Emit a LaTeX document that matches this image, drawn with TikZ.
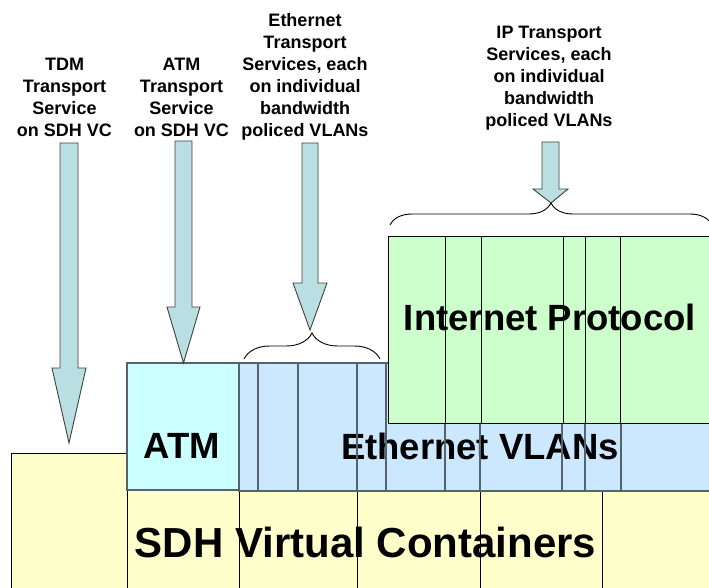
\documentclass[tikz,border=0pt]{standalone}
\usepackage{fontspec}
\setmainfont{Liberation Sans}
\usetikzlibrary{decorations.pathreplacing}
\definecolor{arrowfill}{HTML}{B9DFE3}
\definecolor{sdhyellow}{HTML}{FFFFCC}
\definecolor{atmcyan}{HTML}{CCFFFF}
\definecolor{vlanblue}{HTML}{CCE8FF}
\definecolor{ipgreen}{HTML}{CCFFCC}
\definecolor{vlanline}{HTML}{56636B}

\begin{document}
\begin{tikzpicture}[x=1pt,y=-1pt,
  svclabel/.style={font=\bfseries\fontsize{18}{22}\selectfont,align=center,anchor=base},
  layertext/.style={font=\bfseries\fontsize{36.5}{40}\selectfont,anchor=base},
  fatarrow/.style={draw=black!75,fill=arrowfill,line width=0.9pt,line join=miter},
  curly/.style={decorate,decoration={brace,amplitude=#1},line width=0.9pt}]
  \useasboundingbox (0,0) rectangle (709,588) ;
  \clip (0,0) rectangle (709,588) ;
  % SDH layer
  \filldraw[fill=sdhyellow,line width=1pt] (11,600) -- (11,453) -- (127,453) -- (127,490) -- (720,490) -- (720,600) -- cycle ;
  \node[layertext,font=\bfseries\fontsize{42}{46}\selectfont] (sdh) at (365.5,557) {SDH Virtual Containers} ;
  \draw[line width=1pt] (127,453) -- (127,600) ;
  \draw[line width=1pt] (239,490) -- (239,600) ;
  \draw[line width=1pt] (357,490) -- (357,600) ;
  \draw[line width=1pt] (480,490) -- (480,600) ;
  \draw[line width=1pt] (602,489) -- (602,600) ;
  % ATM and Ethernet layer
  \filldraw[fill=atmcyan,draw=vlanline,line width=1.2pt] (127,363) rectangle (239,490) ;
  \node[layertext] (atm) at (182,458) {ATM} ;
  \filldraw[fill=vlanblue,draw=vlanline,line width=1.2pt] (239,363) rectangle (720,491) ;
  \node[layertext] (vlan) at (480,459) {Ethernet VLANs} ;
  \draw[vlanline,line width=1.3pt] (258,363) -- (258,491) ;
  \draw[vlanline,line width=1.3pt] (298,363) -- (298,491) ;
  \draw[vlanline,line width=1.3pt] (357,363) -- (357,491) ;
  \draw[vlanline,line width=1.3pt] (386,363) -- (386,491) ;
  \draw[vlanline,line width=1.3pt] (445,423) -- (445,491) ;
  \draw[vlanline,line width=1.3pt] (480,423) -- (480,491) ;
  \draw[vlanline,line width=1.3pt] (562,423) -- (562,491) ;
  \draw[vlanline,line width=1.3pt] (585,423) -- (585,491) ;
  \draw[vlanline,line width=1.3pt] (621,423) -- (621,491) ;
  % IP layer
  \filldraw[fill=ipgreen,line width=1pt] (388,236) rectangle (720,423) ;
  \node[layertext] (ip) at (550,330) {Internet Protocol} ;
  \draw[line width=1pt] (445,236) -- (445,423) ;
  \draw[line width=1pt] (481,236) -- (481,423) ;
  \draw[line width=1pt] (563,236) -- (563,423) ;
  \draw[line width=1pt] (585,236) -- (585,423) ;
  \draw[line width=1pt] (620,236) -- (620,423) ;
  % service labels (base = last line)
  \node[svclabel] (tdmsvc) at (64.5,137) {TDM\\Transport\\Service\\on SDH VC} ;
  \node[svclabel] (atmsvc) at (181.5,137) {ATM\\Transport\\Service\\on SDH VC} ;
  \node[svclabel] (ethsvc) at (305,137) {Ethernet\\Transport\\Services, each\\on individual\\bandwidth\\policed VLANs} ;
  \node[svclabel] (ipsvc) at (549,127) {IP Transport\\Services, each\\on individual\\bandwidth\\policed VLANs} ;
  % arrows
  \filldraw[fatarrow] (60,143) -- (78,143) -- (78,368) -- (86,368) -- (69,443) -- (52,368) -- (60,368) -- cycle ;
  \filldraw[fatarrow] (175,141) -- (192,141) -- (192,307) -- (200,307) -- (183.5,363) -- (167,307) -- (175,307) -- cycle ;
  \filldraw[fatarrow] (302,143) -- (318,143) -- (318,283) -- (327,283) -- (310,330) -- (293,283) -- (302,283) -- cycle ;
  \filldraw[fatarrow] (542,142) -- (559,142) -- (559,189) -- (568,189) -- (551,203) -- (533,189) -- (542,189) -- cycle ;
  % braces
  \draw[curly=26pt] (244,359) -- (380,359) ;
  \draw[curly=22pt] (390,225) -- (712,225) ;
\end{tikzpicture}
\end{document}
